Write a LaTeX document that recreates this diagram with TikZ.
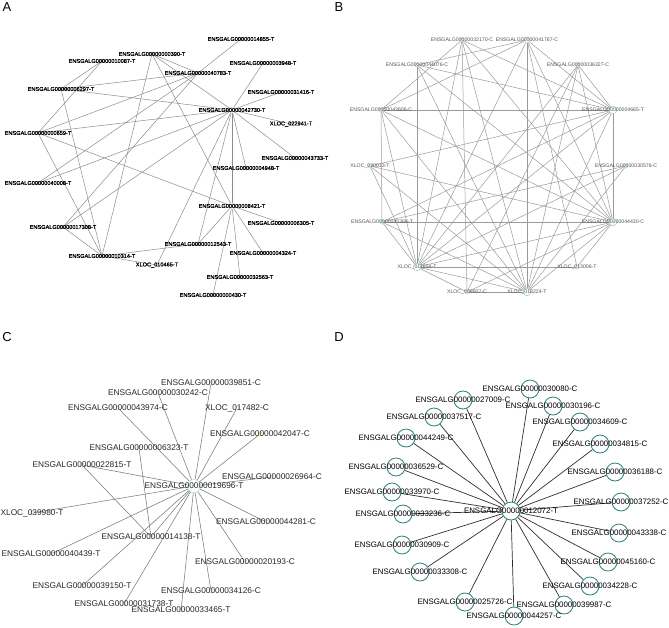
\documentclass[tikz,border=0pt]{standalone}
\usepackage{fontspec}
\setmainfont{Liberation Sans}
\newfontfamily\afont[FakeBold=0.7]{Liberation Sans}
\pgfdeclarelayer{bg}
\pgfsetlayers{bg,main}
\definecolor{ateal}{HTML}{9CD3D0}
\definecolor{agrey}{HTML}{8C8C8C}
\definecolor{bgrey}{HTML}{9A9A9A}
\definecolor{btext}{HTML}{555555}
\definecolor{bteal}{HTML}{7FC4C0}
\definecolor{cgrey}{HTML}{7A7A7A}
\definecolor{cteal}{HTML}{A6DCDA}
\definecolor{cyell}{HTML}{C9C25A}
\definecolor{dteal}{HTML}{2B7F7A}
\definecolor{dline}{HTML}{2E2E2E}
\tikzset{
  panel/.style={font=\fontsize{13}{13}\selectfont, inner sep=0pt},
  alab/.style={font=\afont\fontsize{5.6}{6}\selectfont, text=black, inner sep=0pt},
  an/.style={circle, draw=ateal, line width=0.4pt, inner sep=0pt, minimum size=3.5pt, label={[alab]center:#1}},
  anh/.style={an=#1, minimum size=6.5pt},
  ae/.style={draw=agrey, line width=0.5pt},
  blab/.style={font=\fontsize{5.2}{6}\selectfont, text=btext, inner sep=0pt},
  bn/.style={circle, draw=bteal, line width=0.4pt, inner sep=0pt, minimum size=4pt, label={[blab]center:#1}},
  bnh/.style={bn=#1, minimum size=7.5pt},
  be/.style={draw=bgrey, line width=0.5pt},
  clab/.style={font=\fontsize{8.3}{9}\selectfont, text=black!85, inner sep=0pt},
  cn/.style={circle, draw=cteal, line width=0.5pt, inner sep=0pt, minimum size=4pt, label={[clab]center:#1}},
  ce/.style={draw=cgrey, line width=0.55pt},
  dlab/.style={font=\fontsize{7.9}{9}\selectfont, text=black, inner sep=0pt},
  dn/.style={circle, draw=dteal, line width=0.8pt, inner sep=0pt, minimum size=18pt, label={[dlab]center:#1}},
  de/.style={draw=dline, line width=0.7pt},
}
\begin{document}
\begin{tikzpicture}[x=1pt,y=-1pt]
\useasboundingbox (0,0) rectangle (669,627);
% panel letters
\node[panel] (pA) at (7,7) {A};
\node[panel] (pB) at (339,7) {B};
\node[panel] (pC) at (7,337) {C};
\node[panel] (pD) at (339,337) {D};

% ================= Panel A =================
\node[an=ENSGALG00000014855-T] (a14855) at (241,39) {};
\node[an=ENSGALG00000000390-T] (a390) at (152,54) {};
\node[an=ENSGALG00000010087-T] (a10087) at (102,61) {};
\node[an=ENSGALG00000003948-T] (a3948) at (263,63) {};
\node[an=ENSGALG00000040783-T] (a40783) at (198,73) {};
\node[an=ENSGALG00000006297-T] (a6297) at (61,89) {};
\node[an=ENSGALG00000031416-T] (a31416) at (281,92) {};
\node[anh=ENSGALG00000042730-T] (a42730) at (232,110) {};
\node[an=XLOC\_022941-T] (ax22941) at (291,124) {};
\node[an=ENSGALG00000000659-T] (a659) at (38,133) {};
\node[an=ENSGALG00000043733-T] (a43733) at (295,158) {};
\node[an=ENSGALG00000004948-T] (a4948) at (246,168) {};
\node[an=ENSGALG00000040008-T] (a40008) at (38,183) {};
\node[anh=ENSGALG00000008421-T] (a8421) at (232,206) {};
\node[an=ENSGALG00000017308-T] (a17308) at (63,227) {};
\node[an=ENSGALG00000006305-T] (a6305) at (281,223) {};
\node[an=ENSGALG00000012543-T] (a12543) at (198,244) {};
\node[an=ENSGALG00000010314-T] (a10314) at (102,256) {};
\node[an=ENSGALG00000004324-T] (a4324) at (263,253) {};
\node[an=XLOC\_010465-T] (ax10465) at (157,265) {};
\node[an=ENSGALG00000032563-T] (a32563) at (240,277) {};
\node[an=ENSGALG00000000430-T] (a430) at (213,295) {};

\begin{pgfonlayer}{bg}
\foreach \u/\v in {a14855/a40783, a390/a40783, a390/a42730, a390/a10314, a390/a8421,
  a10087/a6297, a10087/a659, a6297/a40783, a6297/a42730, a6297/a10314,
  a3948/a42730, a31416/a42730, a40783/a659, a40783/a40008, a40783/a17308,
  a42730/ax22941, a42730/a43733, a42730/a4948, a42730/a8421, a42730/a659,
  a42730/a40008, a42730/a17308, a42730/ax10465, a42730/a12543,
  a659/a8421, a659/a10314, a8421/a6305, a8421/a12543, a8421/a4324,
  a8421/a32563, a8421/a430, a17308/a10314, a10314/a12543, a10314/ax10465}
  \draw[ae] (\u) -- (\v);
\end{pgfonlayer}

% ================= Panel B =================
\node[bn=ENSGALG00000032170-C] (b32170) at (462,40) {};
\node[bnh=ENSGALG00000041767-C, minimum size=6pt] (b41767) at (527,40) {};
\node[bn=ENSGALG00000044076-C] (b44076) at (417,65) {};
\node[bn=ENSGALG00000036327-C] (b36327) at (578,65) {};
\node[bn=ENSGALG00000043606-C] (b43606) at (381,110) {};
\node[bnh=ENSGALG00000004665-T] (b4665) at (613,110) {};
\node[bn=XLOC\_020013-T] (bx20013) at (370,166) {};
\node[bn=ENSGALG00000030576-C] (b30576) at (626,166) {};
\node[bn=ENSGALG00000045366-T] (b45366) at (382,222) {};
\node[bnh=ENSGALG00000044430-C] (b44430) at (613,222) {};
\node[bnh=XLOC\_011654-T] (bx11654) at (417,267) {};
\node[bn=XLOC\_013006-T] (bx13006) at (577,267) {};
\node[bn=XLOC\_009907-C] (bx9907) at (467,292) {};
\node[bnh=XLOC\_018224-T] (bx18224) at (527,292) {};

\begin{pgfonlayer}{bg}
\foreach \u/\v in {b32170/b43606, b32170/b4665, b32170/bx11654, b32170/bx18224, b32170/b44430, b32170/bx9907,
  b41767/b44076, b41767/b43606, b41767/bx18224, b41767/bx11654, b41767/b4665, b41767/b44430, b41767/bx13006,
  b44076/b4665, b44076/bx11654, b44076/bx18224, b44076/b44430,
  b36327/bx11654, b36327/bx18224, b36327/b44430, b36327/b4665, b36327/bx9907,
  b43606/b4665, b43606/bx11654, b43606/bx18224, b43606/b44430, b43606/b45366,
  b4665/bx20013, b4665/bx11654, b4665/bx18224, b4665/b44430, b4665/b45366,
  bx20013/bx18224, bx20013/b44430, bx20013/bx11654,
  b30576/bx11654, b30576/bx18224, b30576/b45366,
  b45366/b44430, b45366/bx11654, b45366/bx18224,
  b44430/bx11654, b44430/bx18224, b44430/bx13006, b44430/bx9907,
  bx11654/bx13006, bx11654/bx18224, bx11654/bx9907, bx9907/bx18224}
  \draw[be] (\u) -- (\v);
\end{pgfonlayer}

% ================= Panel C =================
\node[cn=ENSGALG00000019696-T, minimum size=13pt] (c19696) at (194,486) {};
\node[cn=ENSGALG00000039851-C] (c39851) at (211,383) {};
\node[cn=ENSGALG00000030242-C] (c30242) at (158,393) {};
\node[cn=ENSGALG00000043974-C] (c43974) at (118,408) {};
\node[cn=XLOC\_017482-C] (cx17482) at (237,408) {};
\node[cn=ENSGALG00000042047-C, draw=cyell] (c42047) at (260,434) {};
\node[cn=ENSGALG00000006323-T] (c6323) at (139,448) {};
\node[cn=ENSGALG00000022815-T] (c22815) at (82,465) {};
\node[cn=ENSGALG00000026964-C] (c26964) at (272,477) {};
\node[cn=XLOC\_039980-T] (cx39980) at (32,513) {};
\node[cn=ENSGALG00000044281-C] (c44281) at (266,522) {};
\node[cn=ENSGALG00000014138-T] (c14138) at (151,537) {};
\node[cn=ENSGALG00000040439-T] (c40439) at (51,554) {};
\node[cn=ENSGALG00000020193-C] (c20193) at (245,562) {};
\node[cn=ENSGALG00000039150-T] (c39150) at (82,586) {};
\node[cn=ENSGALG00000034126-C] (c34126) at (211,591) {};
\node[cn=ENSGALG00000031738-T] (c31738) at (124,604) {};
\node[cn=ENSGALG00000033465-T] (c33465) at (181,610) {};

\begin{pgfonlayer}{bg}
\foreach \v in {c39851, c30242, c43974, cx17482, c42047, c22815, c26964, cx39980,
  c44281, c14138, c40439, c20193, c39150, c34126, c31738, c33465}
  \draw[ce] (c19696) -- (\v);
\draw[ce] (c22815) -- (c14138);
\draw[ce] (c6323) -- (c14138);
\end{pgfonlayer}

% ================= Panel D =================
\node[dn=ENSGALG00000012072-T] (d12072) at (511,511) {};
\node[dn=ENSGALG00000030080-C] (d30080) at (530,389) {};
\node[dn=ENSGALG00000027009-C] (d27009) at (463,400) {};
\node[dn=ENSGALG00000030196-C] (d30196) at (553,406) {};
\node[dn=ENSGALG00000037517-C] (d37517) at (434,417) {};
\node[dn=ENSGALG00000034609-C] (d34609) at (580,422) {};
\node[dn=ENSGALG00000044249-C] (d44249) at (406,438) {};
\node[dn=ENSGALG00000034815-C] (d34815) at (600,444) {};
\node[dn=ENSGALG00000036529-C] (d36529) at (396,467) {};
\node[dn=ENSGALG00000036188-C] (d36188) at (615,472) {};
\node[dn=ENSGALG00000033970-C] (d33970) at (392,492) {};
\node[dn=ENSGALG00000037252-C] (d37252) at (621,502) {};
\node[dn=ENSGALG00000033236-C] (d33236) at (403,514) {};
\node[dn=ENSGALG00000043338-C] (d43338) at (619,533) {};
\node[dn=ENSGALG00000030909-C] (d30909) at (402,545) {};
\node[dn=ENSGALG00000045160-C] (d45160) at (608,562) {};
\node[dn=ENSGALG00000033308-C] (d33308) at (420,572) {};
\node[dn=ENSGALG00000034228-C] (d34228) at (590,586) {};
\node[dn=ENSGALG00000025726-C] (d25726) at (465,602) {};
\node[dn=ENSGALG00000039987-C] (d39987) at (564,605) {};
\node[dn=ENSGALG00000044257-C] (d44257) at (514,616) {};

\begin{pgfonlayer}{bg}
\foreach \v in {d30080, d27009, d30196, d37517, d34609, d44249, d34815, d36529, d36188,
  d33970, d37252, d33236, d43338, d30909, d45160, d33308, d34228, d25726, d39987, d44257}
  \draw[de] (d12072) -- (\v);
\end{pgfonlayer}
\end{tikzpicture}
\end{document}
